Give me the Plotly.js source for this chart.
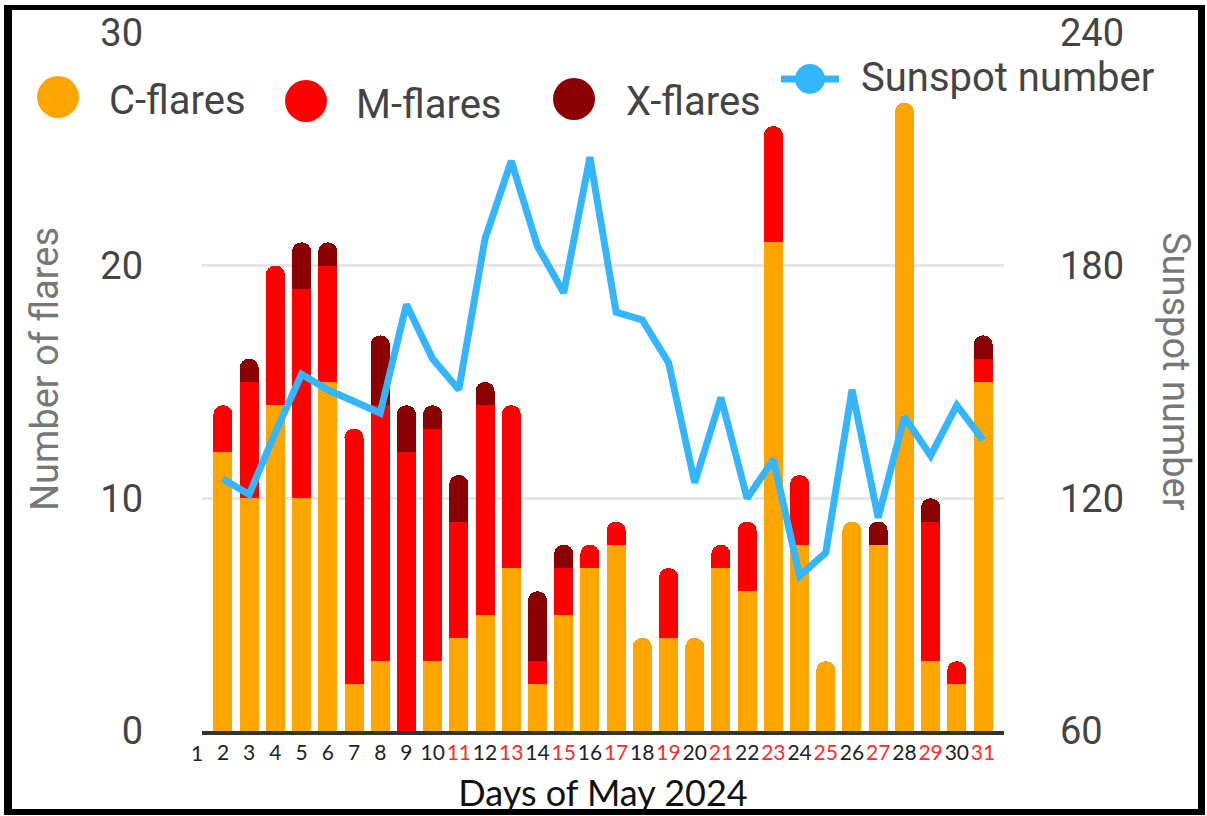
<!DOCTYPE html>
<html><head><meta charset="utf-8">
<script src="https://cdn.plot.ly/plotly-3.0.1.min.js"></script>
<style>
html,body{margin:0;padding:0;background:#fff;overflow:hidden}
#chart{width:1207px;height:816px}
#frame{position:absolute;left:4px;top:5px;width:1201px;height:810px;box-sizing:border-box;border:solid #000;border-width:5px 7px 6px 8px;pointer-events:none}
</style></head><body>
<div id="chart"></div><div id="frame"></div>
<script>
// ---- data ----
const days = [1,2,3,4,5,6,7,8,9,10,11,12,13,14,15,16,17,18,19,20,21,22,23,24,25,26,27,28,29,30,31];
const cFlares = [null,12,10,14,10,15,2,3,0,3,4,5,7,2,5,7,8,4,4,4,7,6,21,8,3,9,8,27,3,2,15];
const mFlares = [null,2,5,6,9,5,11,11,12,10,5,9,7,1,2,1,1,0,3,0,1,3,5,3,0,0,0,0,6,1,1];
const xFlares = [null,0,1,0,2,1,0,3,2,1,2,1,0,3,1,0,0,0,0,0,0,0,0,0,0,0,1,0,1,0,1];
const sunspot = [null,125,121,137,152,148,145,142,170,156,148,187,207,185,173,208,168,166,155,124,146,120,130,100,106,148,115,141,131,144,135];
const seriesNames = ['C-flares','M-flares','X-flares','Sunspot number'];
const redLabelDays = [11,13,15,17,19,21,23,25,27,29,31];
const yLeftTicks = [0,10,20,30];
const yRightTicks = [60,120,180,240];

// ---- styling ----
const colors = ['#ffa500','#ff0000','#8b0000','#33b5ff'];
const PL=202, PR=1004, PT=33, PB=731;
const px = x => (x-PL)/(PR-PL);
const py = y => (PB-y)/(PB-PT);
const xr = [1.2, 31.8];

const tickText = days.map(d => redLabelDays.includes(d)
  ? '<span style="color:#ff2a2a">'+d+'</span>' : String(d));

const bars = [cFlares,mFlares,xFlares].map((v,i)=>({
  type:'bar', x:days, y:v, name:seriesNames[i],
  marker:{color:colors[i], line:{width:0}}, hoverinfo:'x+y+name'
}));
const line = {type:'scatter', mode:'lines', x:days, y:sunspot, yaxis:'y2',
  name:seriesNames[3], line:{color:colors[3], width:7}, cliponaxis:false};

// manual legend (large circle markers)
const legendItems = [
  {cx:58, cy:97, r:21, tx:107, ty:100, i:0},
  {cx:306, cy:101, r:21, tx:354, ty:104, i:1},
  {cx:574, cy:99, r:21, tx:624, ty:101, i:2}
];
const shapes = [];
const annotations = [];
legendItems.forEach(it=>{
  shapes.push({type:'circle', xref:'paper', yref:'paper',
    x0:px(it.cx-it.r), x1:px(it.cx+it.r), y0:py(it.cy+it.r), y1:py(it.cy-it.r),
    fillcolor:colors[it.i], line:{width:0}});
  annotations.push({xref:'paper', yref:'paper', x:px(it.tx), y:py(it.ty),
    xanchor:'left', yanchor:'middle', showarrow:false, text:seriesNames[it.i],
    font:{family:'Roboto', size:40, color:'#444'}});
});
shapes.push({type:'line', xref:'paper', yref:'paper', x0:px(781), x1:px(839), y0:py(79), y1:py(79),
  line:{color:colors[3], width:7}});
shapes.push({type:'circle', xref:'paper', yref:'paper', x0:px(795), x1:px(825), y0:py(94), y1:py(64),
  fillcolor:colors[3], line:{width:0}});
annotations.push({xref:'paper', yref:'paper', x:px(859), y:py(78), xanchor:'left', yanchor:'middle',
  showarrow:false, text:seriesNames[3], font:{family:'Roboto', size:40, color:'#444'}});
// axis titles
annotations.push({xref:'paper', yref:'paper', x:px(45), y:py(369), xanchor:'center', yanchor:'middle',
  showarrow:false, textangle:-90, text:'Number of flares', font:{family:'Roboto', size:38, color:'#777'}});
annotations.push({xref:'paper', yref:'paper', x:px(1176), y:py(371), xanchor:'center', yanchor:'middle',
  showarrow:false, textangle:90, text:'Sunspot number', font:{family:'Roboto', size:38, color:'#777'}});
// tick label for day 1 (left of plotted range)
annotations.push({xref:'paper', yref:'paper', x:(days[0]-xr[0])/(xr[1]-xr[0]), y:0, xanchor:'center', yanchor:'top',
  yshift:-7, showarrow:false, text:String(days[0]), font:{family:'Lato', size:21, color:'#222'}});

const layout = {
  width:1207, height:816,
  margin:{l:PL, r:1207-PR, t:PT, b:816-PB, pad:0},
  paper_bgcolor:'#fff', plot_bgcolor:'#fff',
  barmode:'stack', bargap:0.275, barcornerradius:'50%',
  showlegend:false,
  font:{family:'Roboto', color:'#444'},
  xaxis:{range:xr, tickmode:'array', tickvals:days, ticktext:tickText, tickangle:0,
    tickfont:{family:'Lato', size:21, color:'#222'}, showgrid:false, zeroline:false,
    showline:true, linecolor:'#333', linewidth:4, ticks:'',
    title:{text:'Days of May 2024', font:{family:'Lato', size:36, color:'#111'}, standoff:19}},
  yaxis:{range:[0,30], tickmode:'array', tickvals:yLeftTicks, showgrid:true, gridcolor:'#e6e6e6', gridwidth:3,
    zeroline:false, showline:false, ticks:'', tickfont:{family:'Roboto', size:38, color:'#444'},
    ticklabelstandoff:58},
  yaxis2:{range:[60,240], overlaying:'y', side:'right', tickmode:'array', tickvals:yRightTicks,
    showgrid:false, zeroline:false, showline:false, ticks:'',
    tickfont:{family:'Roboto', size:38, color:'#444'}, ticklabelstandoff:55},
  shapes:shapes, annotations:annotations
};
Plotly.newPlot('chart', [...bars, line], layout, {displayModeBar:false, staticPlot:true});
</script>
</body></html>
